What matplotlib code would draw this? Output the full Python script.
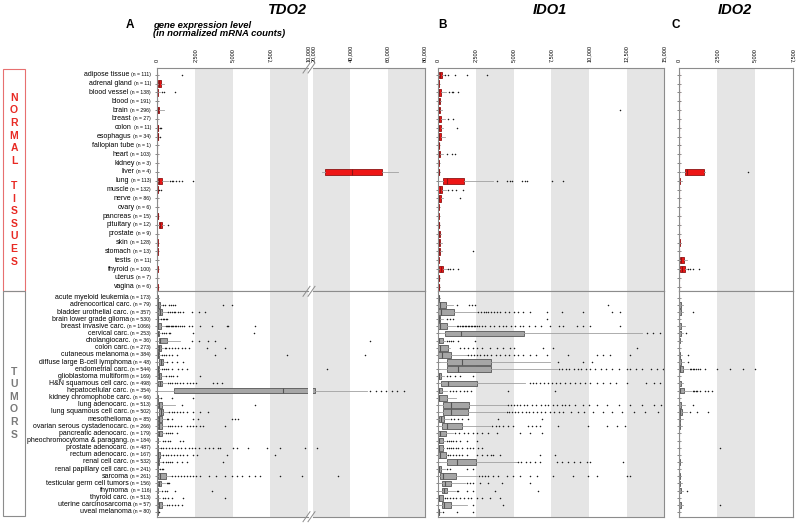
import matplotlib
matplotlib.use("Agg")
import matplotlib.pyplot as plt
from matplotlib.lines import Line2D
from matplotlib.patches import Rectangle

plt.rcParams["font.family"] = ["Liberation Sans", "DejaVu Sans"]

W, H = 796, 524

normal_tissues = [
    "adipose tissue", "adrenal gland", "blood vessel", "blood", "brain", "breast",
    "colon", "esophagus", "fallopian tube", "heart", "kidney", "liver", "lung",
    "muscle", "nerve", "ovary", "pancreas", "pituitary", "prostate", "skin",
    "stomach", "testis", "thyroid", "uterus", "vagina",
]
normal_n = [111, 11, 138, 191, 296, 27, 11, 34, 1, 103, 3, 4, 113, 132, 86, 6, 15,
            12, 9, 128, 13, 11, 100, 7, 6]

tumor_types = [
    "acute myeloid leukemia", "adrenocortical carc.", "bladder urothelial carc.",
    "brain lower grade glioma", "breast invasive carc.", "cervical carc.",
    "cholangiocarc.", "colon carc.", "cutaneous melanoma",
    "diffuse large B-cell lymphoma", "endometrial carc.", "glioblastoma multiform",
    "H&N squamous cell carc.", "hepatocellular carc.", "kidney chromophobe carc.",
    "lung adenocarc.", "lung squamous cell carc.", "mesothelioma",
    "ovarian serous cystadenocarc.", "pancreatic adenocarc.",
    "pheochromocytoma & paragang.", "prostate adenocarc.", "rectum adenocarc.",
    "renal cell carc.", "renal papillary cell carc.", "sarcoma",
    "testicular germ cell tumors", "thymoma", "thyroid carc.",
    "uterine carcinosarcoma", "uveal melanoma",
]
tumor_n = [173, 79, 357, 530, 1066, 253, 36, 273, 384, 48, 544, 169, 498, 354, 66,
           513, 502, 85, 266, 179, 184, 487, 167, 532, 241, 261, 156, 116, 513, 57, 80]

# box values: (whisker low, q1, median, q3, whisker high)
tdo2_normal = [
    (0, 0, 3, 10, 40), (0, 30, 110, 260, 450), (0, 2, 10, 40, 150), (0, 0, 1, 3, 8),
    (0, 10, 35, 100, 420), (0, 0, 2, 8, 25), (0, 5, 15, 40, 90), (0, 5, 20, 60, 120),
    (5, 5, 5, 5, 5), (0, 0, 2, 6, 15), (0, 2, 5, 10, 20),
    (24800, 26400, 40800, 56800, 65300), (0, 20, 80, 280, 700), (0, 2, 8, 25, 60),
    (0, 1, 4, 12, 30), (0, 0, 2, 5, 10), (0, 5, 15, 30, 60), (0, 90, 200, 340, 420),
    (0, 2, 5, 12, 25), (0, 2, 6, 15, 40), (0, 3, 10, 30, 60), (0, 0, 2, 5, 10),
    (0, 3, 10, 25, 60), (0, 2, 5, 12, 20), (0, 2, 6, 15, 30),
]
tdo2_normal_out = [
    [1650], [], [330, 450, 1200], [], [], [], [160, 220], [180], [], [], [], [],
    [820, 950, 1060, 1240, 1440, 1660, 2400], [100, 240], [], [], [], [730], [], [],
    [], [], [], [], [],
]
tdo2_tumor = [
    (0, 2, 10, 60, 120), (0, 10, 60, 150, 300), (0, 70, 150, 330, 620),
    (0, 5, 20, 60, 150), (0, 5, 40, 230, 500), (0, 2, 15, 80, 200),
    (0, 110, 180, 660, 1510), (0, 30, 100, 270, 400), (0, 5, 30, 120, 250),
    (0, 130, 240, 400, 600), (0, 5, 20, 90, 200), (0, 20, 80, 250, 500),
    (0, 70, 150, 330, 600), (0, 1130, 8330, 21000, 48800), (0, 2, 10, 40, 150),
    (0, 30, 100, 330, 1180), (0, 110, 230, 400, 700), (0, 30, 100, 330, 520),
    (0, 30, 110, 330, 600), (0, 30, 100, 330, 450), (0, 2, 10, 40, 200),
    (0, 2, 10, 40, 150), (0, 5, 50, 180, 300), (0, 5, 40, 130, 300),
    (0, 2, 10, 40, 100), (0, 70, 200, 560, 900), (0, 30, 100, 223, 500),
    (0, 2, 10, 40, 150), (0, 2, 10, 40, 200), (0, 30, 100, 290, 500),
    (0, 1, 5, 15, 50),
]
tdo2_tumor_out = [
    [],
    [380, 500, 780, 900, 1050, 1180, 4380, 4940],
    [700, 820, 950, 1080, 1200, 1350, 1500, 1730, 2290, 2750, 3140],
    [250, 350, 450, 550, 620],
    [560, 640, 720, 800, 880, 960, 1050, 1150, 1250, 1350, 1500, 1650, 1800, 2100,
     2300, 2840, 3620, 4600, 4720, 6490],
    [300, 450, 600, 750, 850, 2400, 6400],
    [2290, 2750, 3360, 3820, 50500],
    [480, 600, 750, 950, 1150, 1400, 1650, 1850, 2100, 3300, 4500],
    [330, 450, 600, 750, 950, 1290, 3800, 8600, 47900],
    [620, 950, 1290, 1730],
    [300, 420, 550, 700, 950, 1400, 1620, 1950, 27300],
    [600, 750, 900, 1050, 1290, 2830],
    [700, 850, 1000, 1150, 1300, 1500, 1700, 1950, 2170, 2390, 2600, 3720, 3940, 4270],
    [50800, 53500, 56200, 58900, 62400, 65100, 68700],
    [250, 950, 2390],
    [1620, 6490],
    [800, 950, 1100, 1300, 1500, 1700, 1950, 2390, 2840, 3390],
    [620, 720, 950, 2390, 2720, 4940, 5160, 5380],
    [700, 850, 1000, 1200, 1400, 1600, 1950, 2170, 2390, 2600, 2830, 3060, 4490],
    [550, 700, 850, 1000, 1290],
    [350, 500, 700, 843, 1500, 1730],
    [250, 400, 600, 800, 1000, 1200, 1400, 1600, 1850, 2100, 2300, 2500, 2800, 3170,
     3400, 3700, 4000, 4160, 5050, 5300, 6040, 7260, 8150, 9800, 22000],
    [400, 550, 700, 900, 1100, 1300, 1500, 1700, 1950, 2390, 2610, 4600, 7800],
    [400, 550, 700, 850, 950, 1290, 1620, 1950, 4380],
    [200, 300, 400],
    [1000, 1200, 1400, 1600, 1800, 2000, 2200, 2400, 2600, 2850, 3400, 3900, 4500,
     4950, 5300, 5600, 6100, 6500, 6800, 8150, 9590, 33600],
    [620, 730, 800],
    [300, 500, 620, 1180, 3610],
    [350, 500, 700, 950, 1730, 4490],
    [650, 800, 1000, 1180, 1400, 1650],
    [100],
]

ido1_normal = [
    (0, 20, 100, 224, 400), (0, 2, 10, 30, 60), (0, 2, 60, 157, 500),
    (0, 5, 30, 80, 150), (0, 5, 30, 100, 220), (0, 10, 50, 150, 450),
    (0, 10, 60, 180, 330), (0, 10, 50, 150, 445), (20, 20, 20, 20, 20),
    (0, 5, 30, 110, 300), (0, 2, 10, 30, 50), (0, 5, 20, 50, 80),
    (0, 290, 600, 1730, 3650), (0, 10, 80, 250, 500), (0, 10, 50, 150, 334),
    (0, 2, 10, 30, 60), (0, 2, 10, 30, 60), (0, 5, 20, 60, 100),
    (0, 10, 40, 90, 150), (0, 10, 40, 120, 224), (0, 10, 40, 120, 224),
    (0, 2, 10, 30, 60), (0, 70, 150, 334, 560), (0, 5, 20, 50, 80),
    (0, 5, 20, 50, 80),
]
ido1_normal_out = [
    [445, 666, 1110, 1880, 3210], [], [700, 890, 1000, 1330], [], [12060], [660, 1000],
    [1220], [], [], [580, 888, 1110], [], [],
    [3880, 4540, 4760, 4870, 5540, 5760, 5870, 7530, 8300],
    [660, 900, 1200, 1660], [1440], [], [], [], [], [], [2280], [],
    [670, 780, 1000, 1330], [], [],
]
ido1_tumor = [
    (0, 5, 30, 70, 120), (0, 2, 113, 489, 1000), (0, 2, 180, 1060, 2550),
    (0, 5, 30, 100, 300), (0, 2, 113, 556, 1110), (0, 445, 1485, 5710, 13500),
    (0, 2, 60, 290, 450), (0, 2, 113, 666, 780), (0, 2, 224, 821, 1880),
    (0, 600, 1550, 3480, 7420), (0, 600, 1290, 3480, 7860), (0, 2, 30, 150, 400),
    (0, 180, 670, 2550, 5760), (0, 2, 50, 224, 600), (0, 2, 60, 556, 1170),
    (0, 334, 821, 2060, 4540), (0, 290, 821, 1950, 4430), (0, 69, 180, 380, 700),
    (0, 224, 600, 1550, 3430), (0, 2, 113, 489, 1000), (0, 2, 60, 334, 445),
    (0, 2, 60, 290, 400), (0, 2, 113, 489, 600), (0, 600, 1220, 2480, 5200),
    (0, 2, 40, 200, 450), (0, 113, 334, 1150, 2550), (0, 224, 445, 821, 1770),
    (0, 224, 380, 600, 1110), (0, 2, 60, 290, 334), (0, 224, 380, 843, 1880),
    (0, 2, 20, 60, 150),
]
ido1_tumor_out = [
    [],
    [1220, 2060, 2220, 2440, 11290],
    [2660, 2850, 3000, 3150, 3300, 3500, 3700, 3900, 4100, 4400, 4700, 5000, 5300,
     5600, 6100, 7200, 8190, 9630, 11510, 12060],
    [550, 780, 1000, 7200],
    [1220, 1330, 1450, 1550, 1650, 1750, 1850, 1950, 2050, 2150, 2250, 2350, 2450,
     2550, 2700, 2900, 3100, 3400, 3700, 4000, 4300, 4500, 4800, 5100, 5400, 5650,
     6000, 6400, 6800, 7400, 8000, 8300, 9190, 9630, 10070, 12060],
    [13830, 14280, 14720],
    [560, 700, 850, 1000, 1330, 2440],
    [1440, 1700, 2000, 2300, 2600, 2900, 3450, 3900, 4300, 4750, 5000, 6970, 7640,
     13170],
    [2000, 2200, 2400, 2600, 2800, 3000, 3200, 3500, 3800, 4100, 4400, 4700, 5000,
     5300, 5600, 6100, 6500, 7200, 8590, 10510, 10960, 11400, 12730],
    [7970, 9630, 10180],
    [8000, 8200, 8500, 8700, 9000, 9300, 9500, 9800, 10100, 10400, 10800, 11100,
     11500, 12000, 12500, 12700, 13100, 13500, 14100, 14500, 14900],
    [550, 800, 1100, 1440, 2330],
    [6090, 6300, 6500, 6750, 7000, 7300, 7550, 7800, 8100, 8400, 8750, 9100, 9400,
     9750, 10100, 10500, 10900, 11400, 11800, 12500, 13800, 14300, 14700],
    [800, 1000, 1200, 1450, 1700, 1900, 2200, 4650, 7750],
    [],
    [4650, 4800, 5000, 5200, 5450, 5700, 5900, 6200, 6500, 6800, 7100, 7300, 7600,
     7900, 8200, 8400, 8700, 9100, 9600, 10000, 10500, 11200, 12000, 12700, 13500,
     14300, 14800],
    [4550, 4700, 4900, 5100, 5300, 5550, 5800, 6050, 6300, 6550, 6800, 7100, 7400,
     7700, 8000, 8300, 8800, 9300, 9700, 10300, 10900, 11500, 12200, 13000, 13700,
     14600],
    [850, 1050, 1330, 1550, 1950, 3990, 6860],
    [3550, 3800, 4050, 4300, 4600, 4980, 5950, 6200, 6500, 6750, 7970, 9960, 11180,
     11840, 12390],
    [1110, 1400, 1700, 2000, 2300, 2600, 2880, 3320, 3880, 5420, 6090, 6860],
    [550, 700, 850, 1000, 1200, 1440, 1880, 2550],
    [550, 700, 850, 1000, 1150, 1330, 1600, 1880, 2100, 2330, 2660, 2880],
    [670, 800, 1000, 1200, 1400, 1600, 1880, 2550, 2900, 3200, 3500, 3650, 4100,
     6750, 7750],
    [5310, 5500, 5800, 6100, 6400, 6750, 7860, 8200, 8600, 9000, 9400, 9850, 10070,
     12280],
    [556, 800, 1880, 2330],
    [2700, 2900, 3100, 3300, 3650, 3990, 4540, 4980, 5420, 6090, 6530, 7640, 8960,
     9960, 10510, 12510, 12730],
    [1880, 2100, 2330, 2770, 3320, 4200, 6090],
    [1220, 1330, 1880, 2330, 3760, 6640],
    [450, 600, 800, 1000, 1200, 1450, 1700, 1950, 2200, 2550, 2880, 3430, 4100],
    [2330, 4320],
    [334, 1220, 2330],
]

ido2_normal = [
    (0, 0, 5, 20, 40), (0, 0, 5, 20, 40), (0, 0, 5, 20, 40), (0, 0, 3, 10, 20),
    (0, 0, 5, 20, 40), (0, 0, 5, 20, 40), (0, 0, 5, 20, 40), (0, 0, 5, 20, 40),
    (5, 5, 5, 5, 5), (0, 0, 5, 20, 40), (0, 0, 5, 20, 40),
    (175, 395, 504, 1620, 1710), (0, 5, 30, 80, 170), (0, 0, 5, 20, 40),
    (0, 0, 5, 20, 40), (0, 0, 5, 20, 40), (0, 0, 5, 20, 40), (0, 0, 5, 20, 40),
    (0, 0, 5, 20, 40), (0, 5, 30, 70, 150), (0, 0, 5, 20, 40),
    (0, 66, 150, 330, 500), (0, 66, 180, 373, 560), (0, 0, 5, 20, 40),
    (0, 0, 5, 20, 40),
]
ido2_normal_out = [
    [], [], [], [], [], [], [], [], [], [], [], [4560], [], [], [], [], [], [], [],
    [], [], [], [614, 724, 943, 1316], [], [],
]
ido2_tumor = [
    (0, 0, 5, 20, 40), (0, 5, 30, 100, 240), (0, 5, 30, 100, 285), (0, 0, 5, 20, 40),
    (0, 5, 30, 120, 400), (0, 5, 30, 100, 285), (0, 5, 20, 60, 175),
    (0, 0, 5, 20, 40), (0, 5, 20, 80, 175), (0, 5, 30, 120, 300),
    (0, 10, 60, 250, 600), (0, 0, 5, 20, 40), (0, 5, 30, 100, 285),
    (0, 10, 80, 300, 800), (0, 0, 5, 20, 40), (0, 5, 30, 120, 395),
    (0, 10, 50, 200, 500), (0, 5, 20, 80, 240), (0, 5, 20, 60, 175),
    (0, 0, 5, 20, 40), (0, 0, 5, 20, 40), (0, 2, 10, 30, 60), (0, 0, 5, 20, 40),
    (0, 5, 20, 60, 175), (0, 0, 5, 20, 40), (0, 2, 10, 40, 110),
    (0, 5, 20, 60, 175), (0, 5, 30, 120, 285), (0, 0, 5, 20, 40),
    (0, 5, 30, 100, 285), (0, 0, 5, 20, 40),
]
ido2_tumor_out = [
    [], [], [943], [], [], [460], [], [], [614], [614],
    [700, 800, 900, 1000, 1100, 1250, 1380, 1710, 2480, 3360, 4230, 5000],
    [], [], [900, 1000, 1100, 1200, 1380, 1710, 1930, 2150], [], [943],
    [724, 1160, 1930], [], [], [], [], [2700], [], [], [], [], [], [504], [],
    [2700], [],
]


def fx(x):
    return x / W


def fy(y):
    return 1 - y / H


def px_axes(fig, x0, y0, x1, y1):
    return fig.add_axes([fx(x0), fy(y1), (x1 - x0) / W, (y1 - y0) / H])


def to_stats(boxes, outliers):
    return [
        dict(whislo=b[0], q1=b[1], med=b[2], q3=b[3], whishi=b[4], fliers=f)
        for b, f in zip(boxes, outliers)
    ]


def draw_panel(ax, stats, normal, xlim, bands, ylim):
    face, edge = ("#ee1616", "#8e1414") if normal else ("#a6a6a6", "#555555")
    for lo, hi in bands:
        ax.axvspan(lo, hi, color="#e5e5e5", lw=0, zorder=0)
    ax.bxp(
        stats,
        positions=list(range(len(stats))),
        widths=0.72 if normal else 0.8,
        orientation="horizontal",
        patch_artist=True,
        showcaps=False,
        boxprops=dict(facecolor=face, edgecolor=edge, linewidth=0.6),
        medianprops=dict(color=edge, linewidth=0.8),
        whiskerprops=dict(color="#a0a0a0", linewidth=0.6),
        flierprops=dict(marker="o", markersize=1.1, markerfacecolor="#1a1a1a",
                        markeredgewidth=0, linestyle="none"),
        manage_ticks=False,
    )
    ax.set_xlim(*xlim)
    ax.set_ylim(*ylim)
    ax.set_yticks(range(len(stats)))
    ax.tick_params(axis="y", direction="inout", length=2.5, width=0.5,
                   color="#555555", labelleft=False)
    for s in ax.spines.values():
        s.set_color("#8c8c8c")
        s.set_linewidth(0.8)


def top_ticks(ax, ticks):
    ax.xaxis.set_ticks_position("top")
    ax.set_xticks(ticks)
    ax.set_xticklabels([f"{t:,}" for t in ticks], rotation=90, fontsize=4)
    ax.tick_params(axis="x", length=0, pad=4)


def row_labels(ax, names, counts):
    tr = ax.get_yaxis_transform()
    for i, (name, n) in enumerate(zip(names, counts)):
        t = ax.text(-0.042, i, f"(n = {n})", transform=tr, ha="right",
                    va="center", fontsize=3.7)
        ax.annotate(name, xy=(0, 0.5), xycoords=t, xytext=(-1.2, 0),
                    textcoords="offset points", ha="right", va="center",
                    fontsize=5)


fig = plt.figure(figsize=(W / 100, H / 100), dpi=100)

y_top, y_sep, y_bot = 68, 291.3, 516.7
ylim_normal = (24.52, -0.76)
ylim_tumor = (30.66, -0.9)

columns = [
    # x0, x1, xlim, bands, ticks, data
    (157.3, 308, (0, 10000), [(2500, 5000), (7500, 10000)],
     [0, 2500, 5000, 7500, 10000], "tdo2"),
    (313, 425, (20000, 80000), [(20000, 40000), (60000, 80000)],
     [20000, 40000, 60000, 80000], "tdo2"),
    (438.3, 664.3, (0, 15000), [(2500, 5000), (7500, 10000), (12500, 15000)],
     [0, 2500, 5000, 7500, 10000, 12500, 15000], "ido1"),
    (679, 793, (0, 7500), [(2500, 5000)], [0, 2500, 5000, 7500], "ido2"),
]
data = {
    "tdo2": (to_stats(tdo2_normal, tdo2_normal_out), to_stats(tdo2_tumor, tdo2_tumor_out)),
    "ido1": (to_stats(ido1_normal, ido1_normal_out), to_stats(ido1_tumor, ido1_tumor_out)),
    "ido2": (to_stats(ido2_normal, ido2_normal_out), to_stats(ido2_tumor, ido2_tumor_out)),
}

for k, (x0, x1, xlim, bands, ticks, key) in enumerate(columns):
    st_n, st_t = data[key]
    ax_n = px_axes(fig, x0, y_top, x1, y_sep)
    ax_t = px_axes(fig, x0, y_sep, x1, y_bot)
    draw_panel(ax_n, st_n, True, xlim, bands, ylim_normal)
    draw_panel(ax_t, st_t, False, xlim, bands, ylim_tumor)
    top_ticks(ax_n, ticks)
    ax_t.set_xticks([])
    if k == 0:
        for ax in (ax_n, ax_t):
            ax.spines["right"].set_visible(False)
        row_labels(ax_n, normal_tissues, normal_n)
        row_labels(ax_t, tumor_types, tumor_n)
    if k == 1:
        for ax in (ax_n, ax_t):
            ax.spines["left"].set_visible(False)
            ax.tick_params(axis="y", length=0)

# axis break marks
for yb in (y_top, y_sep, y_bot):
    for xb in (306.5, 311.5):
        fig.add_artist(Line2D([fx(xb - 3.5), fx(xb + 3.5)], [fy(yb + 5), fy(yb - 5)],
                              color="#8c8c8c", lw=0.7))

# side boxes
fig.add_artist(Rectangle((fx(2.7), fy(290.5)), (25 - 2.7) / W, (290.5 - 69.3) / H,
                         fill=False, edgecolor="#e77070", lw=0.8))
fig.add_artist(Rectangle((fx(2.7), fy(516)), (25 - 2.7) / W, (516 - 290.5) / H,
                         fill=False, edgecolor="#8c8c8c", lw=0.8))
for i, ch in enumerate("NORMAL TISSUES"):
    if ch != " ":
        fig.text(fx(14), fy(97.7 + i * 12.6), ch, ha="center", va="center",
                 fontsize=7.5, fontweight="bold", color="#e82a24")
for i, ch in enumerate("TUMORS"):
    fig.text(fx(14), fy(371.7 + i * 12.6), ch, ha="center", va="center",
             fontsize=7.5, fontweight="bold", color="#7a7a7a")

# titles and panel letters
for label, x in (("TDO2", 287), ("IDO1", 550), ("IDO2", 735)):
    fig.text(fx(x), fy(9.5), label, ha="center", va="center", fontsize=10.5,
             fontweight="bold", fontstyle="italic")
for label, x in (("A", 126), ("B", 438), ("C", 672)):
    fig.text(fx(x), fy(25), label, ha="left", va="center", fontsize=8.5,
             fontweight="bold")
fig.text(fx(153), fy(25), "gene expression level", ha="left", va="center",
         fontsize=6.8, fontweight="bold", fontstyle="italic")
fig.text(fx(153), fy(33.5), "(in normalized mRNA counts)", ha="left", va="center",
         fontsize=6.8, fontweight="bold", fontstyle="italic")

fig.savefig("out.png", dpi=100)
